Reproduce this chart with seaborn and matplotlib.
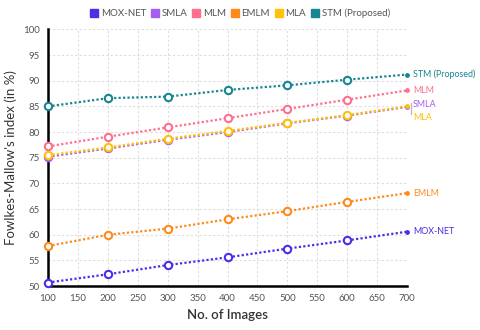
import matplotlib
matplotlib.use('Agg')
import pandas as pd
import seaborn as sns
import matplotlib.pyplot as plt

# data
images = [100, 200, 300, 400, 500, 600, 700]
mox_net = [50.7, 52.3, 54.1, 55.6, 57.3, 58.9, 60.6]
smla = [75.2, 76.8, 78.5, 80.0, 81.7, 83.2, 84.9]
mlm = [77.2, 79.1, 80.9, 82.7, 84.5, 86.3, 88.1]
emlm = [57.8, 60.0, 61.2, 63.0, 64.6, 66.4, 68.1]
mla = [75.5, 77.0, 78.7, 80.2, 81.8, 83.3, 85.0]
stm = [85.0, 86.6, 86.9, 88.2, 89.1, 90.2, 91.2]

methods = ['MOX-NET', 'SMLA', 'MLM', 'EMLM', 'MLA', 'STM (Proposed)']
values = [mox_net, smla, mlm, emlm, mla, stm]
colors = ['#4B2EE6', '#A45EF0', '#FF6F8E', '#FF8A1C', '#FFC10A', '#178693']

rows = []
for m, v in zip(methods, values):
    for x, y in zip(images, v):
        rows.append({'images': x, 'index': y, 'method': m})
df = pd.DataFrame(rows)
palette = dict(zip(methods, colors))

sns.set_style('white')
plt.rcParams['font.family'] = ['Lato', 'DejaVu Sans']

fig = plt.figure(figsize=(4.8, 3.3), dpi=100)
ax = fig.add_axes([0.1, 0.133, 0.748, 0.778])

# dotted lines through all points
sns.lineplot(data=df, x='images', y='index', hue='method', palette=palette,
             linestyle=(0, (1, 1)), linewidth=1.6, legend=False, ax=ax)

# hollow circle markers on 100..600, small dot at 700
pts = df[df['images'] < 700]
for m in methods:
    sub = pts[pts['method'] == m]
    ax.scatter(sub['images'], sub['index'], s=28, facecolor='white',
               edgecolor=palette[m], linewidth=1.5, zorder=3, clip_on=False)
    last = df[(df['method'] == m) & (df['images'] == 700)]
    ax.scatter(last['images'], last['index'], s=6, color=palette[m], zorder=3, clip_on=False)

# end labels
offsets = {'MOX-NET': 0, 'SMLA': 0.5, 'MLM': 0, 'EMLM': 0, 'MLA': -2.1, 'STM (Proposed)': 0}
for m, v in zip(methods, values):
    ax.text(710, v[-1] + offsets[m], m, color=palette[m], fontsize=6.4,
            va='center', ha='left', clip_on=False)
ax.plot([706, 706], [mla[-1] + 0.6, mla[-1] - 1.4], color='#bbbbbb', lw=1, clip_on=False)

ax.set_xlim(100, 700)
ax.set_ylim(50, 100)
ax.set_xticks(range(100, 701, 50))
ax.set_yticks(range(50, 101, 5))
ax.grid(True, color='#dddddd', linestyle=(0, (2, 2)), linewidth=0.8)
ax.tick_params(axis='both', direction='in', length=3, width=1.2, labelsize=7,
               labelcolor='#555555', color='black', pad=6)
for s in ['top', 'right']:
    ax.spines[s].set_visible(False)
for s in ['left', 'bottom']:
    ax.spines[s].set_linewidth(1.8)
    ax.spines[s].set_color('black')

ax.set_xlabel('No. of Images', fontsize=9.5, fontweight='semibold', color='#333333')
ax.set_ylabel("Fowlkes-Mallow's index (in %)", fontsize=9.5, color='#333333')

handles = [plt.Rectangle((0, 0), 1, 1, color=c) for c in colors]
fig.legend(handles, methods, loc='upper center', bbox_to_anchor=(0.5, 1.0),
           ncol=6, frameon=False, fontsize=7, handlelength=0.8, handleheight=0.8,
           handletextpad=0.3, columnspacing=0.5, labelcolor='#555555')

fig.savefig('out.png', dpi=100)
